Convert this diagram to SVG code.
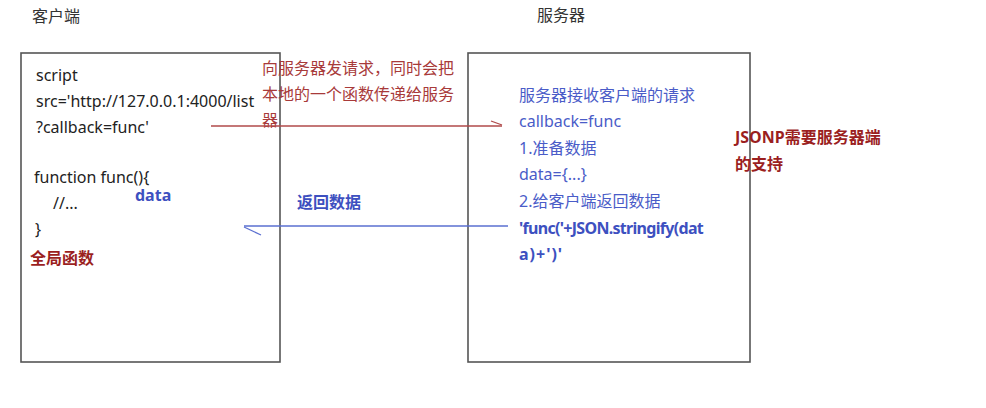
<svg xmlns="http://www.w3.org/2000/svg" width="986" height="408" viewBox="0 0 986 408">
  <style>
    text { font-family: "Noto Sans", "Noto Sans CJK SC", sans-serif; font-size: 16px; }
    .title { fill: #333333; }
    .box { fill: #ffffff; stroke: #555555; stroke-width: 1.6; }
    .code { fill: #222222; }
    .note { fill: #a83a3a; }
    .strong-red { fill: #9b1f1f; font-weight: bold; }
    .blue { fill: #4a5cc8; }
    .blue-bold { fill: #3d50c0; font-weight: bold; }
    .tight { letter-spacing: -0.7px; }
    .req { stroke: #b04a4a; stroke-width: 1.3; fill: none; }
    .res { stroke: #5a6fd0; stroke-width: 1.3; fill: none; }
  </style>
  <defs>
    <marker id="tickRed" markerUnits="userSpaceOnUse" viewBox="-14 -8 16 10" refX="0" refY="0" markerWidth="16" markerHeight="10" orient="auto" overflow="visible">
      <path d="M0,-1 L-11,-5" stroke="#b04a4a" stroke-width="1.3" fill="none"/>
    </marker>
    <marker id="tickBlue" markerUnits="userSpaceOnUse" viewBox="-20 -12 22 14" refX="0" refY="0" markerWidth="22" markerHeight="14" orient="auto" overflow="visible">
      <path d="M0,-1 L-17,-9" stroke="#5a6fd0" stroke-width="1.3" fill="none"/>
    </marker>
  </defs>
  <rect width="986" height="408" fill="#ffffff"/>

  <g id="title-client"><text class="title" x="32" y="22">客户端</text></g>
  <g id="title-server"><text class="title" x="537" y="21">服务器</text></g>

  <g id="client">
    <rect class="box" x="21" y="53" width="259" height="309"/>
    <text class="code" x="36" y="81">script</text>
    <text class="code" x="36" y="107">src='http://127.0.0.1:4000/list</text>
    <text class="code" x="36" y="133">?callback=func'</text>
    <text class="code" x="34" y="183">function func(){</text>
    <text class="code" x="53" y="209">//...</text>
    <text class="code" x="35" y="235">}</text>
    <text class="blue-bold" x="135" y="201">data</text>
    <text class="strong-red" x="30" y="264">全局函数</text>
  </g>

  <g id="server">
    <rect class="box" x="468" y="53" width="282" height="309"/>
    <text class="blue" x="519" y="101">服务器接收客户端的请求</text>
    <text class="blue" x="519" y="127">callback=func</text>
    <text class="blue" x="519" y="154">1.准备数据</text>
    <text class="blue" x="519" y="180">data={...}</text>
    <text class="blue" x="519" y="207">2.给客户端返回数据</text>
    <text class="blue-bold tight" x="519" y="234">'func('+JSON.stringify(dat</text>
    <text class="blue-bold" x="519" y="260" letter-spacing="1">a)+')'</text>
  </g>

  <g id="request-label">
    <text class="note" x="262" y="74">向服务器发请求，同时会把</text>
    <text class="note" x="262" y="100">本地的一个函数传递给服务</text>
    <text class="note" x="262" y="126">器</text>
  </g>

  <g id="response-label">
    <text class="blue-bold" x="297" y="208">返回数据</text>
  </g>

  <g id="jsonp-note">
    <text class="strong-red" x="735" y="143">JSONP需要服务器端</text>
    <text class="strong-red" x="735" y="170">的支持</text>
  </g>

  <g id="connectors">
    <path class="req" d="M211,126 L502,126" marker-end="url(#tickRed)"/>
    <path class="res" d="M508,226 L244,226" marker-end="url(#tickBlue)"/>
  </g>
</svg>
